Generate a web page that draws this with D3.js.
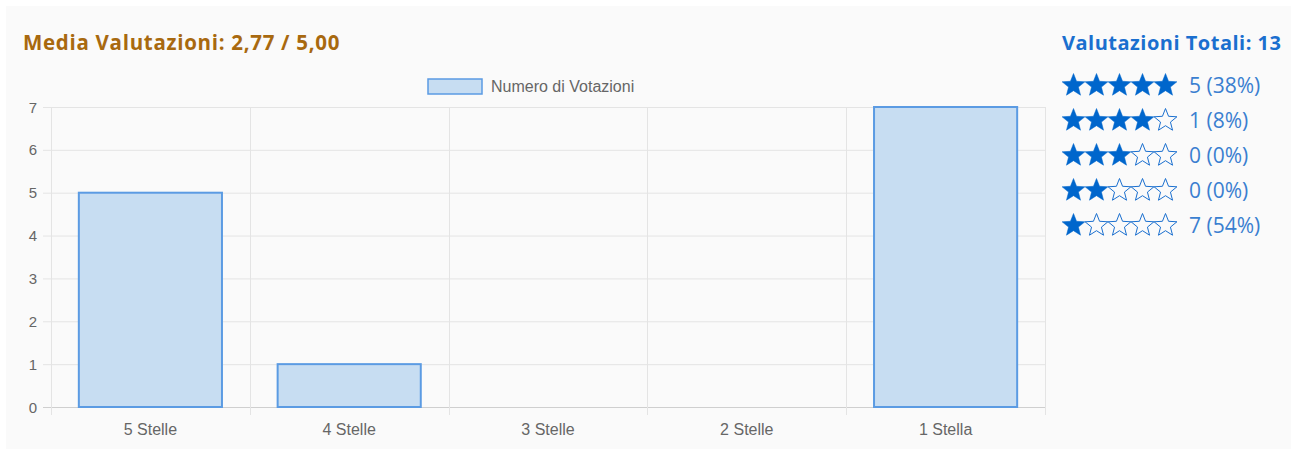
<!DOCTYPE html>
<html><head><meta charset="utf-8">
<script src="https://cdn.jsdelivr.net/npm/d3@7"></script>
<style>
html,body{margin:0;padding:0;background:#fff;}
svg{display:block;}
</style></head>
<body>
<svg id="c" width="1297" height="450"></svg>
<script>
const categories = ["5 Stelle", "4 Stelle", "3 Stelle", "2 Stelle", "1 Stella"];
const votes = [5, 1, 0, 0, 7];
const yTicks = [0, 1, 2, 3, 4, 5, 6, 7];
const starRows = [5, 4, 3, 2, 1];
const rowLabels = ["5 (38%)", "1 (8%)", "0 (0%)", "0 (0%)", "7 (54%)"];
const seriesName = "Numero di Votazioni";
const titleText = "Media Valutazioni: 2,77 / 5,00";
const totalText = "Valutazioni Totali: 13";

const svg = d3.select("#c");
svg.append("rect").attr("x", 6).attr("y", 6).attr("width", 1285).attr("height", 443).attr("fill", "#fafafa");

const m = {l: 51, r: 1045, t: 107, b: 407};
const x = d3.scaleBand().domain(categories).range([m.l, m.r]).paddingInner(0).paddingOuter(0);
const y = d3.scaleLinear().domain([0, 7]).range([m.b, m.t]);
const chartFont = "Liberation Sans, Arial, sans-serif";

// grid
const g = svg.append("g");
g.selectAll(".hg").data(yTicks).join("line")
  .attr("x1", m.l - 8).attr("x2", m.r).attr("y1", d => y(d) + 0.5).attr("y2", d => y(d) + 0.5)
  .attr("stroke", d => d === 0 ? "#cfcfcf" : "#e4e4e4").attr("stroke-width", 1);
const vx = categories.map(c => x(c)).concat([m.r]);
g.selectAll(".vg").data(vx).join("line")
  .attr("x1", d => Math.round(d) + 0.5).attr("x2", d => Math.round(d) + 0.5)
  .attr("y1", m.t).attr("y2", m.b + 8)
  .attr("stroke", "#e4e4e4").attr("stroke-width", 1);

// y axis labels
g.selectAll(".yl").data(yTicks).join("text")
  .attr("x", 37).attr("y", d => y(d) + 5.5).attr("text-anchor", "end")
  .attr("font-family", chartFont).attr("font-size", 15).attr("fill", "#666")
  .text(d => d);

// x labels
g.selectAll(".xl").data(categories).join("text")
  .attr("x", d => x(d) + x.bandwidth() / 2).attr("y", 435).attr("text-anchor", "middle")
  .attr("font-family", chartFont).attr("font-size", 16).attr("fill", "#666")
  .text(d => d);

// bars
const bw = x.bandwidth() * 0.72;
svg.append("g").selectAll("rect").data(categories.map((c, i) => ({c, v: votes[i]}))).join("rect")
  .attr("x", d => x(d.c) + (x.bandwidth() - bw) / 2)
  .attr("y", d => y(d.v))
  .attr("width", bw)
  .attr("height", d => y(0) - y(d.v))
  .attr("fill", "#c7ddf2")
  .attr("stroke", d => d.v > 0 ? "#5b9be3" : "none")
  .attr("stroke-width", 2);

// legend
svg.append("rect").attr("x", 428).attr("y", 79).attr("width", 54).attr("height", 15)
  .attr("fill", "#c7ddf2").attr("stroke", "#5b9be3").attr("stroke-width", 1.5);
svg.append("text").attr("x", 491).attr("y", 92)
  .attr("font-family", chartFont).attr("font-size", 16).attr("fill", "#666")
  .text(seriesName);

// title
svg.append("text").attr("x", 23).attr("y", 50)
  .attr("font-family", "Open Sans, Noto Sans, sans-serif").attr("font-weight", 700).attr("font-size", 20.5)
  .attr("letter-spacing", 0.7)
  .attr("fill", "#a8690f").text(titleText);

// right side
svg.append("text").attr("x", 1062).attr("y", 50)
  .attr("font-family", "Open Sans, Noto Sans, sans-serif").attr("font-weight", 700).attr("font-size", 20)
  .attr("letter-spacing", 0.5)
  .attr("fill", "#1a6fcf").text(totalText);

const starPath = (cx, cy, R, r) => {
  let p = [];
  for (let i = 0; i < 10; i++) {
    const a = -Math.PI / 2 + i * Math.PI / 5;
    const rr = i % 2 === 0 ? R : r;
    p.push([cx + rr * Math.cos(a), cy + rr * Math.sin(a)]);
  }
  return "M" + p.map(q => q.join(",")).join("L") + "Z";
};
const rows = svg.append("g");
starRows.forEach((n, ri) => {
  const cy = 85.5 + ri * 35;
  for (let k = 0; k < 5; k++) {
    const cx = 1073.5 + k * 23;
    const filled = k < n;
    rows.append("path").attr("d", starPath(cx, cy, 12, 5.2))
      .attr("fill", filled ? "#0066cc" : "none")
      .attr("stroke", filled ? "#0066cc" : "#1a6fcf")
      .attr("stroke-width", filled ? 0.5 : 1)
      .attr("stroke-linejoin", "miter");
  }
  rows.append("text").attr("x", 1189).attr("y", cy + 7.5)
    .attr("font-family", "Open Sans, Noto Sans, sans-serif").attr("font-size", 21)
    .attr("fill", "#3a7fd0").text(rowLabels[ri]);
});
</script>
</body></html>
